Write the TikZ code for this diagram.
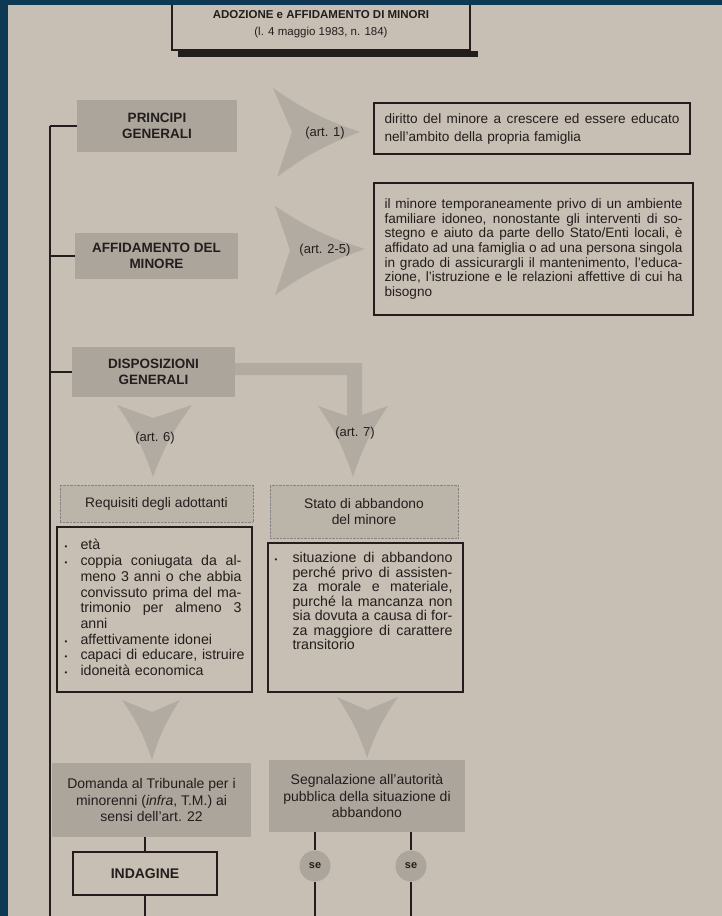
\documentclass[tikz,border=0pt]{standalone}
\usepackage{fontspec}
\setmainfont{Liberation Sans}
\definecolor{pagebg}{RGB}{199,191,179}
\definecolor{framebg}{RGB}{14,57,84}
\definecolor{ink}{RGB}{34,30,29}
\definecolor{boxgrey}{RGB}{172,165,156}
\definecolor{chevgrey}{RGB}{178,171,162}
\newlength{\bulw}
\newlength{\jw}
\newcommand{\stretchsp}{\spaceskip=.28em plus 1fil\xspaceskip=\spaceskip\relax}
\newcommand{\jl}[1]{\makebox[\jw][s]{\stretchsp #1}}
\newcommand{\bul}{\makebox[\bulw][l]{\footnotesize\textbullet}}
\newcommand{\bl}[1]{\bul\mbox{#1}}
\newcommand{\bjl}[1]{\bul\makebox[\dimexpr\jw-\bulw\relax][s]{\stretchsp #1}}
\newcommand{\cjl}[1]{\hspace*{\bulw}\makebox[\dimexpr\jw-\bulw\relax][s]{\stretchsp #1}}
\newcommand{\cl}[1]{\hspace*{\bulw}\mbox{#1}}

\begin{document}
\begin{tikzpicture}[x=1pt,y=-1pt,
	every node/.style={text=ink},
	titlebox/.style={draw=ink,line width=1.3pt,fill=pagebg,align=center,inner sep=0pt,font=\fontsize{11.5}{17}\selectfont},
	greyhead/.style={fill=boxgrey,align=center,inner sep=0pt,font=\bfseries\fontsize{13.5}{15.5}\selectfont},
	notebox/.style={draw=ink,line width=1.1pt,align=left,inner xsep=10.5pt,inner ysep=0pt},
	lightbox/.style={fill=pagebg!94!black,draw=ink!55,densely dotted,align=center,inner sep=0pt,font=\fontsize{13.8}{16}\selectfont},
	listbox/.style={draw=ink,line width=1.4pt},
	listtext/.style={align=left,inner sep=0pt,anchor=north west,font=\fontsize{14.2}{15.7}\selectfont},
	greybody/.style={fill=boxgrey,align=center,inner sep=0pt,font=\fontsize{14}{16.3}\selectfont},
	indbox/.style={draw=ink,line width=1.5pt,fill=pagebg,inner sep=0pt,font=\bfseries\fontsize{14}{16}\selectfont},
	sebubble/.style={circle,fill=boxgrey,minimum size=31pt,inner sep=0pt,font=\bfseries\fontsize{11}{12}\selectfont},
	artlabel/.style={inner sep=0pt,font=\fontsize{13}{14}\selectfont},
	conn/.style={draw=ink,line width=1.3pt}]
	\useasboundingbox (0,0) rectangle (722,916);
	\fill[pagebg] (0,0) rectangle (722,916);
	%
	\node[titlebox,minimum width=298pt,minimum height=52pt] (titolo) at (321,24) {\textbf{ADOZIONE e AFFIDAMENTO DI MINORI}\\(l. 4 maggio 1983, n. 184)};
	\fill[ink] ([xshift=7pt]titolo.south west) rectangle ([xshift=7pt,yshift=-6pt]titolo.south east);
	%
	\node[greyhead,minimum width=160pt,minimum height=52pt] (principi) at (157,126) {PRINCIPI\\GENERALI};
	\node[greyhead,minimum width=163pt,minimum height=46pt] (affido) at (156.5,256) {AFFIDAMENTO DEL\\MINORE};
	\node[greyhead,minimum width=163pt,minimum height=50pt] (disposizioni) at (153.5,372) {DISPOSIZIONI\\GENERALI};
	%
	\coordinate (spine) at (50,123);
	\coordinate (bottom) at (0,916);
	\draw[conn] (principi.west -| spine) -- (spine |- bottom);
	\draw[conn] (principi.west) -- (principi.west -| spine);
	\draw[conn] (affido.west) -- (affido.west -| spine);
	\draw[conn] (disposizioni.west) -- (disposizioni.west -| spine);
	%
	% arrows
	\fill[chevgrey] (273,88) to[bend right=8] (360,132) to[bend right=8] (277,177) -- (292,132) -- cycle;
	\fill[chevgrey] (275,206) to[bend right=8] (365,249) to[bend right=8] (275,295) -- (290,250) -- cycle;
	\fill[chevgrey] (235,363) rectangle (362,375) (347,363) rectangle (362,418);
	\fill[chevgrey] (117,405) -- (153,418) -- (192,405) to[bend right=8] (153,477) to[bend right=8] (117,405) -- cycle;
	\fill[chevgrey] (318,406) -- (353,418) -- (388,406) to[bend right=8] (353,477) to[bend right=8] (318,406) -- cycle;
	\fill[chevgrey] (122,700) -- (152,712) -- (180,700) to[bend right=8] (152,760) to[bend right=8] (122,700) -- cycle;
	\fill[chevgrey] (337,697) -- (367,710) -- (398,697) to[bend right=8] (367,758) to[bend right=8] (337,697) -- cycle;
	\node[artlabel] (art1) at (325,133) {(art. 1)};
	\node[artlabel] (art25) at (325,250) {(art. 2-5)};
	\node[artlabel] (art6) at (155,438) {(art. 6)};
	\node[artlabel] (art7) at (355,433) {(art. 7)};
	%
	\node[notebox,text width=295pt,minimum height=51pt,font=\fontsize{13.6}{18}\selectfont] (diritto) at (532,128.5) {\setlength{\jw}{295pt}\jl{diritto del minore a crescere ed essere educato}\\nell'ambito della propria famiglia};
	\node[notebox,text width=298pt,minimum height=132pt,font=\fontsize{13.6}{14.7}\selectfont] (affidobox) at (533.5,249) {\setlength{\jw}{298pt}\jl{il minore temporaneamente privo di un ambiente}\\\jl{familiare idoneo, nonostante gli interventi di so-}\\\jl{stegno e aiuto da parte dello Stato/Enti locali, è}\\\jl{affidato ad una famiglia o ad una persona singola}\\\jl{in grado di assicurargli il mantenimento, l'educa-}\\\jl{zione, l'istruzione e le relazioni affettive di cui ha}\\bisogno};
	%
	\node[lightbox,minimum width=193pt,minimum height=37pt] (requisiti) at (156.5,503.5) {Requisiti degli adottanti};
	\node[lightbox,minimum width=188pt,minimum height=53pt] (stato) at (364,511.5) {Stato di abbandono\\del minore};
	%
	\node[listbox,minimum width=195pt,minimum height=165pt] (reqlist) at (154.5,609.5) {};
	\node[listtext,text width=177pt] (reqtext) at ([shift={(8,13)}]reqlist.north west) {\setlength{\jw}{177pt}\setlength{\bulw}{16pt}\bl{età}\\\bjl{coppia coniugata da al-}\\\cjl{meno 3 anni o che abbia}\\\cjl{convissuto prima del ma-}\\\cjl{trimonio per almeno 3}\\\cl{anni}\\\bl{affettivamente idonei}\\\bl{capaci di educare, istruire}\\\bl{idoneità economica}};
	\node[listbox,minimum width=195pt,minimum height=149pt] (abblist) at (365.5,617.5) {};
	\node[listtext,text width=178pt,font=\fontsize{14.2}{14.5}\selectfont] (abbtext) at ([shift={(7,10)}]abblist.north west) {\setlength{\jw}{178pt}\setlength{\bulw}{18pt}\bjl{situazione di abbandono}\\\cjl{perché privo di assisten-}\\\cjl{za morale e materiale,}\\\cjl{purché la mancanza non}\\\cjl{sia dovuta a causa di for-}\\\cjl{za maggiore di carattere}\\\cl{transitorio}};
	%
	\node[greybody,minimum width=199pt,minimum height=74pt] (domanda) at (151.5,800) {Domanda al Tribunale per i\\minorenni (\textit{infra}, T.M.) ai\\sensi dell'art. 22};
	\node[greybody,minimum width=196pt,minimum height=72pt] (segnalazione) at (367,796) {Segnalazione all'autorità\\pubblica della situazione di\\abbandono};
	%
	\node[indbox,minimum width=144pt,minimum height=43pt] (indagine) at (145,873.5) {INDAGINE};
	\draw[conn] (indagine.north |- domanda.south) -- (indagine.north);
	\draw[conn] (indagine.south) -- (indagine.south |- bottom);
	%
	\node[sebubble] (se1) at (315,866) {se};
	\node[sebubble] (se2) at (411,866) {se};
	\draw[conn] (se1.north |- segnalazione.south) -- (se1.north);
	\draw[conn] (se1.south) -- (se1.south |- bottom);
	\draw[conn] (se2.north |- segnalazione.south) -- (se2.north);
	\draw[conn] (se2.south) -- (se2.south |- bottom);
	%
	\fill[framebg] (0,0) rectangle (722,5);
	\fill[framebg] (0,0) rectangle (8,916);
\end{tikzpicture}
\end{document}
